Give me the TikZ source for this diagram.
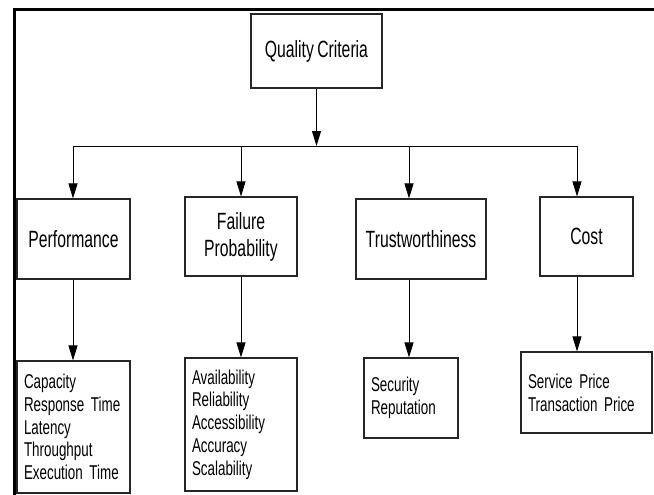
\documentclass[tikz,border=0pt]{standalone}
\usepackage{fontspec}
\setmainfont{Liberation Sans}[FakeStretch=0.67,WordSpace=0.75]
\usetikzlibrary{arrows.meta}
\begin{document}
\begin{tikzpicture}[x=1pt,y=-1pt,
  box/.style={draw=black!85,line width=1.1pt,rectangle,inner sep=0pt,align=center,
    font=\fontsize{23.5}{27}\selectfont},
  listbox/.style={draw=black!85,line width=1.1pt,rectangle,inner xsep=7pt,inner ysep=0pt,
    align=left,font=\fontsize{20}{22.8}\selectfont},
  arr/.style={line width=0.9pt,-{Triangle[length=15pt,width=9pt]}},
  bus/.style={line width=0.9pt}]
\useasboundingbox (0,0) rectangle (654,495);
\draw[line width=3pt] (14,495) -- (14,10) -- (654,10);
% top node
\node[box,minimum width=131pt,minimum height=74pt] (qc) at (316.5,51) {Quality Criteria};
% second row
\node[box,minimum width=113pt,minimum height=80pt] (perf) at (73.5,239) {Performance};
\node[box,minimum width=112pt,minimum height=79pt] (fail) at (241,236.5) {Failure\\Probability};
\node[box,minimum width=130pt,minimum height=80pt] (trust) at (421,239) {Trustworthiness};
\node[box,minimum width=93pt,minimum height=79pt] (cost) at (586.5,236.5) {Cost};
% third row
\node[listbox,text width=99pt,minimum height=132pt] (perfL) at (73.5,427) {Capacity\\Response Time\\Latency\\Throughput\\Execution Time};
\node[listbox,text width=98pt,minimum height=133pt] (failL) at (241,424.5) {Availability\\Reliability\\Accessibility\\Accuracy\\Scalability};
\node[listbox,text width=80pt,minimum height=80pt] (trustL) at (411,398) {Security\\Reputation};
\node[listbox,text width=117pt,minimum height=81pt] (costL) at (586.5,392.5) {Service Price\\Transaction Price};
% bus
\coordinate (b0) at (316.5,146);
\coordinate (b1) at (73,146);
\coordinate (b2) at (241,146);
\coordinate (b3) at (409,146);
\coordinate (b4) at (577,146);
\draw[arr] (qc.south) -- (b0);
\draw[bus] (b1) -- (b4);
\draw[arr] (b1) -- (b1 |- perf.north);
\draw[arr] (b2) -- (b2 |- fail.north);
\draw[arr] (b3) -- (b3 |- trust.north);
\draw[arr] (b4) -- (b4 |- cost.north);
% lower arrows
\draw[arr] (b1 |- perf.south) -- (b1 |- perfL.north);
\draw[arr] (b2 |- fail.south) -- (b2 |- failL.north);
\draw[arr] (b3 |- trust.south) -- (b3 |- trustL.north);
\draw[arr] (b4 |- cost.south) -- (b4 |- costL.north);
\end{tikzpicture}
\end{document}
